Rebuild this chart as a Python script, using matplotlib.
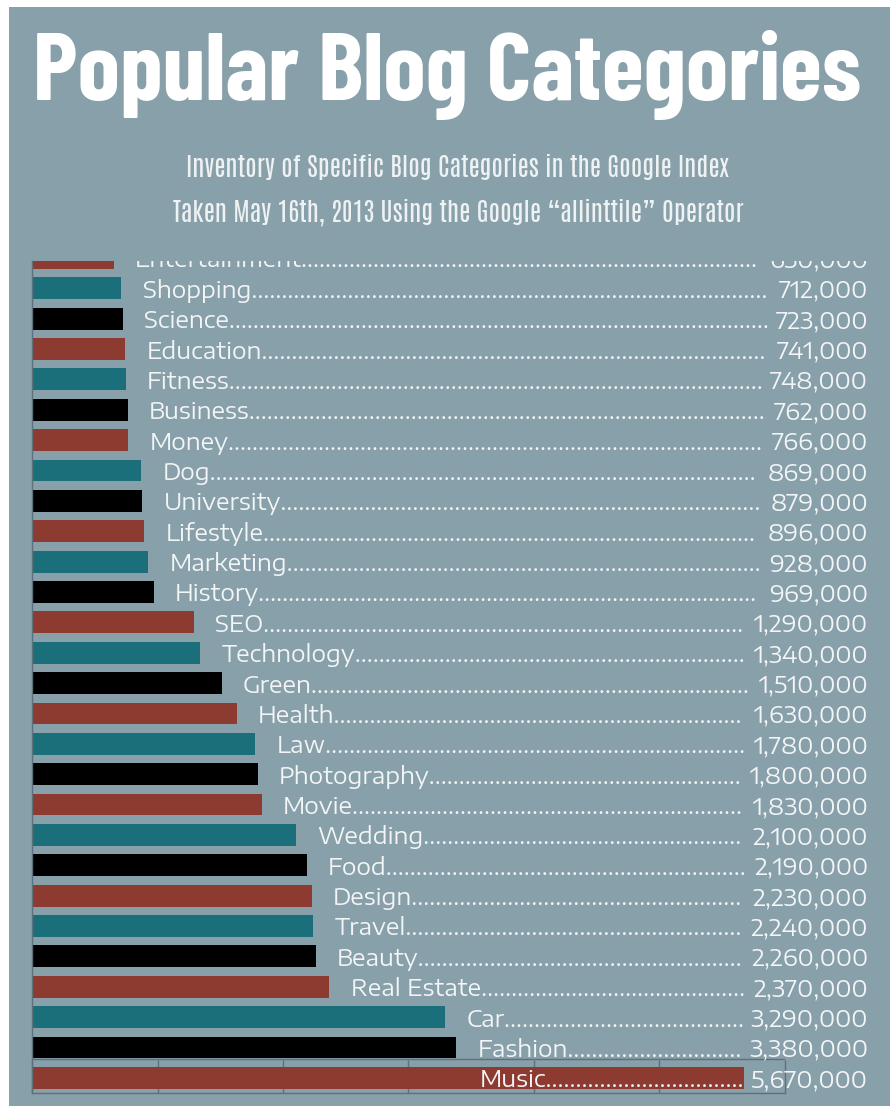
import matplotlib
matplotlib.use('Agg')
import matplotlib.pyplot as plt
from matplotlib.patches import Rectangle
from matplotlib.transforms import Bbox, TransformedBbox, blended_transform_factory

# blog categories, top row first (top row is cut off in the original)
categories = ['Entertainment', 'Shopping', 'Science', 'Education', 'Fitness', 'Business',
              'Money', 'Dog', 'University', 'Lifestyle', 'Marketing', 'History', 'SEO',
              'Technology', 'Green', 'Health', 'Law', 'Photography', 'Movie', 'Wedding',
              'Food', 'Design', 'Travel', 'Beauty', 'Real Estate', 'Car', 'Fashion', 'Music']
counts = [650000, 712000, 723000, 741000, 748000, 762000, 766000, 869000, 879000, 896000,
          928000, 969000, 1290000, 1340000, 1510000, 1630000, 1780000, 1800000, 1830000,
          2100000, 2190000, 2230000, 2240000, 2260000, 2370000, 3290000, 3380000, 5670000]
x_ticks = [0, 1000000, 2000000, 3000000, 4000000, 5000000, 6000000]

title = 'Popular Blog Categories'
subtitle = ['Inventory of Specific Blog Categories in the Google Index',
            'Taken May 16th, 2013 Using the Google \u201callinttile\u201d Operator']

BG = '#88a0aa'
AXC = '#5d717b'
TXT = '#f3f5f6'
bar_colors = ['#8d3a31', '#1b6f7a', '#000000']   # red, teal, black from the top

W, H = 890, 1106
fig = plt.figure(figsize=(W / 100, H / 100), dpi=100, facecolor='white')
fig.add_artist(Rectangle((9 / W, 0), 1 - 9 / W, 1 - 7 / H, facecolor=BG,
                         edgecolor='none', zorder=-10))
renderer = fig.canvas.get_renderer()


def fit_width(t, width_px):
    # scale the font so the text spans width_px
    w = t.get_window_extent(renderer).width
    t.set_fontsize(t.get_fontsize() * width_px / w)


# title + subtitle
t = fig.text(447 / W, 1 - 100 / H, title, ha='center', va='baseline', color='white',
             fontsize=60, fontweight='bold',
             family=['Barlow Condensed', 'Fira Sans Extra Condensed', 'DejaVu Sans'])
fit_width(t, 828)

sub_font = dict(ha='center', va='baseline', color='#eef2f3', fontsize=20,
                family=['Antonio', 'Fira Sans Extra Condensed', 'DejaVu Sans'])
s1 = fig.text(458 / W, 1 - 177 / H, subtitle[0], **sub_font)
fit_width(s1, 543)
sub_font['fontsize'] = s1.get_fontsize()
s2 = fig.text(458 / W, 1 - 222 / H, subtitle[1], **sub_font)

# bar chart
ax = fig.add_axes([32 / W, 1 - 1093 / H, (785 - 32) / W, (1093 - 261) / H])
ax.set_facecolor('none')
n = len(categories)
ypos = [n - 1 - i for i in range(n)]
colors = [bar_colors[i % 3] for i in range(n)]
ax.barh(ypos, counts, height=0.72, color=colors, zorder=2)

ax.set_xlim(0, 6000000)
ax.set_ylim(-0.5, 26.9)
ax.set_xticks(x_ticks)
ax.set_xticklabels([])
ax.set_yticks([])
ax.set_axisbelow(True)
ax.tick_params(axis='x', direction='in', length=24, width=1, color=AXC)
for side in ['top', 'right']:
    ax.spines[side].set_visible(False)
for side in ['left', 'bottom']:
    ax.spines[side].set_color(AXC)
    ax.spines[side].set_linewidth(1)
ax.hlines(0.62, 0, 6000000, color=AXC, lw=1, zorder=1)

# labels: name.......value, clipped at the top of the plot like the original
clip = TransformedBbox(Bbox([[0, 0], [1, 1 - 261 / H]]), fig.transFigure)
val_tr = blended_transform_factory(fig.transFigure, ax.transData)
lab_font = dict(family=['Encode Sans Expanded', 'DejaVu Sans'], fontsize=16.5, color=TXT,
                va='center_baseline')

tmp = fig.text(0, 0, '.' * 40, **lab_font)
dot_w = tmp.get_window_extent(renderer).width / 40
tmp.remove()

for i in range(n):
    x0 = min(counts[i] + 170000, 3570000)
    name = ax.text(x0, ypos[i], categories[i], ha='left', zorder=3, **lab_font)
    val = ax.text(868 / W, ypos[i], f'{counts[i]:,}', ha='right', transform=val_tr,
                  zorder=3, **lab_font)
    gap = val.get_window_extent(renderer).x0 - name.get_window_extent(renderer).x1
    name.set_text(categories[i] + '.' * max(int(gap / dot_w) - 1, 0))
    for tt in (name, val):
        tt.set_clip_path(None)
        tt.set_clip_box(clip)
        tt.set_clip_on(True)

fig.savefig('out.png', dpi=100, facecolor='white')
